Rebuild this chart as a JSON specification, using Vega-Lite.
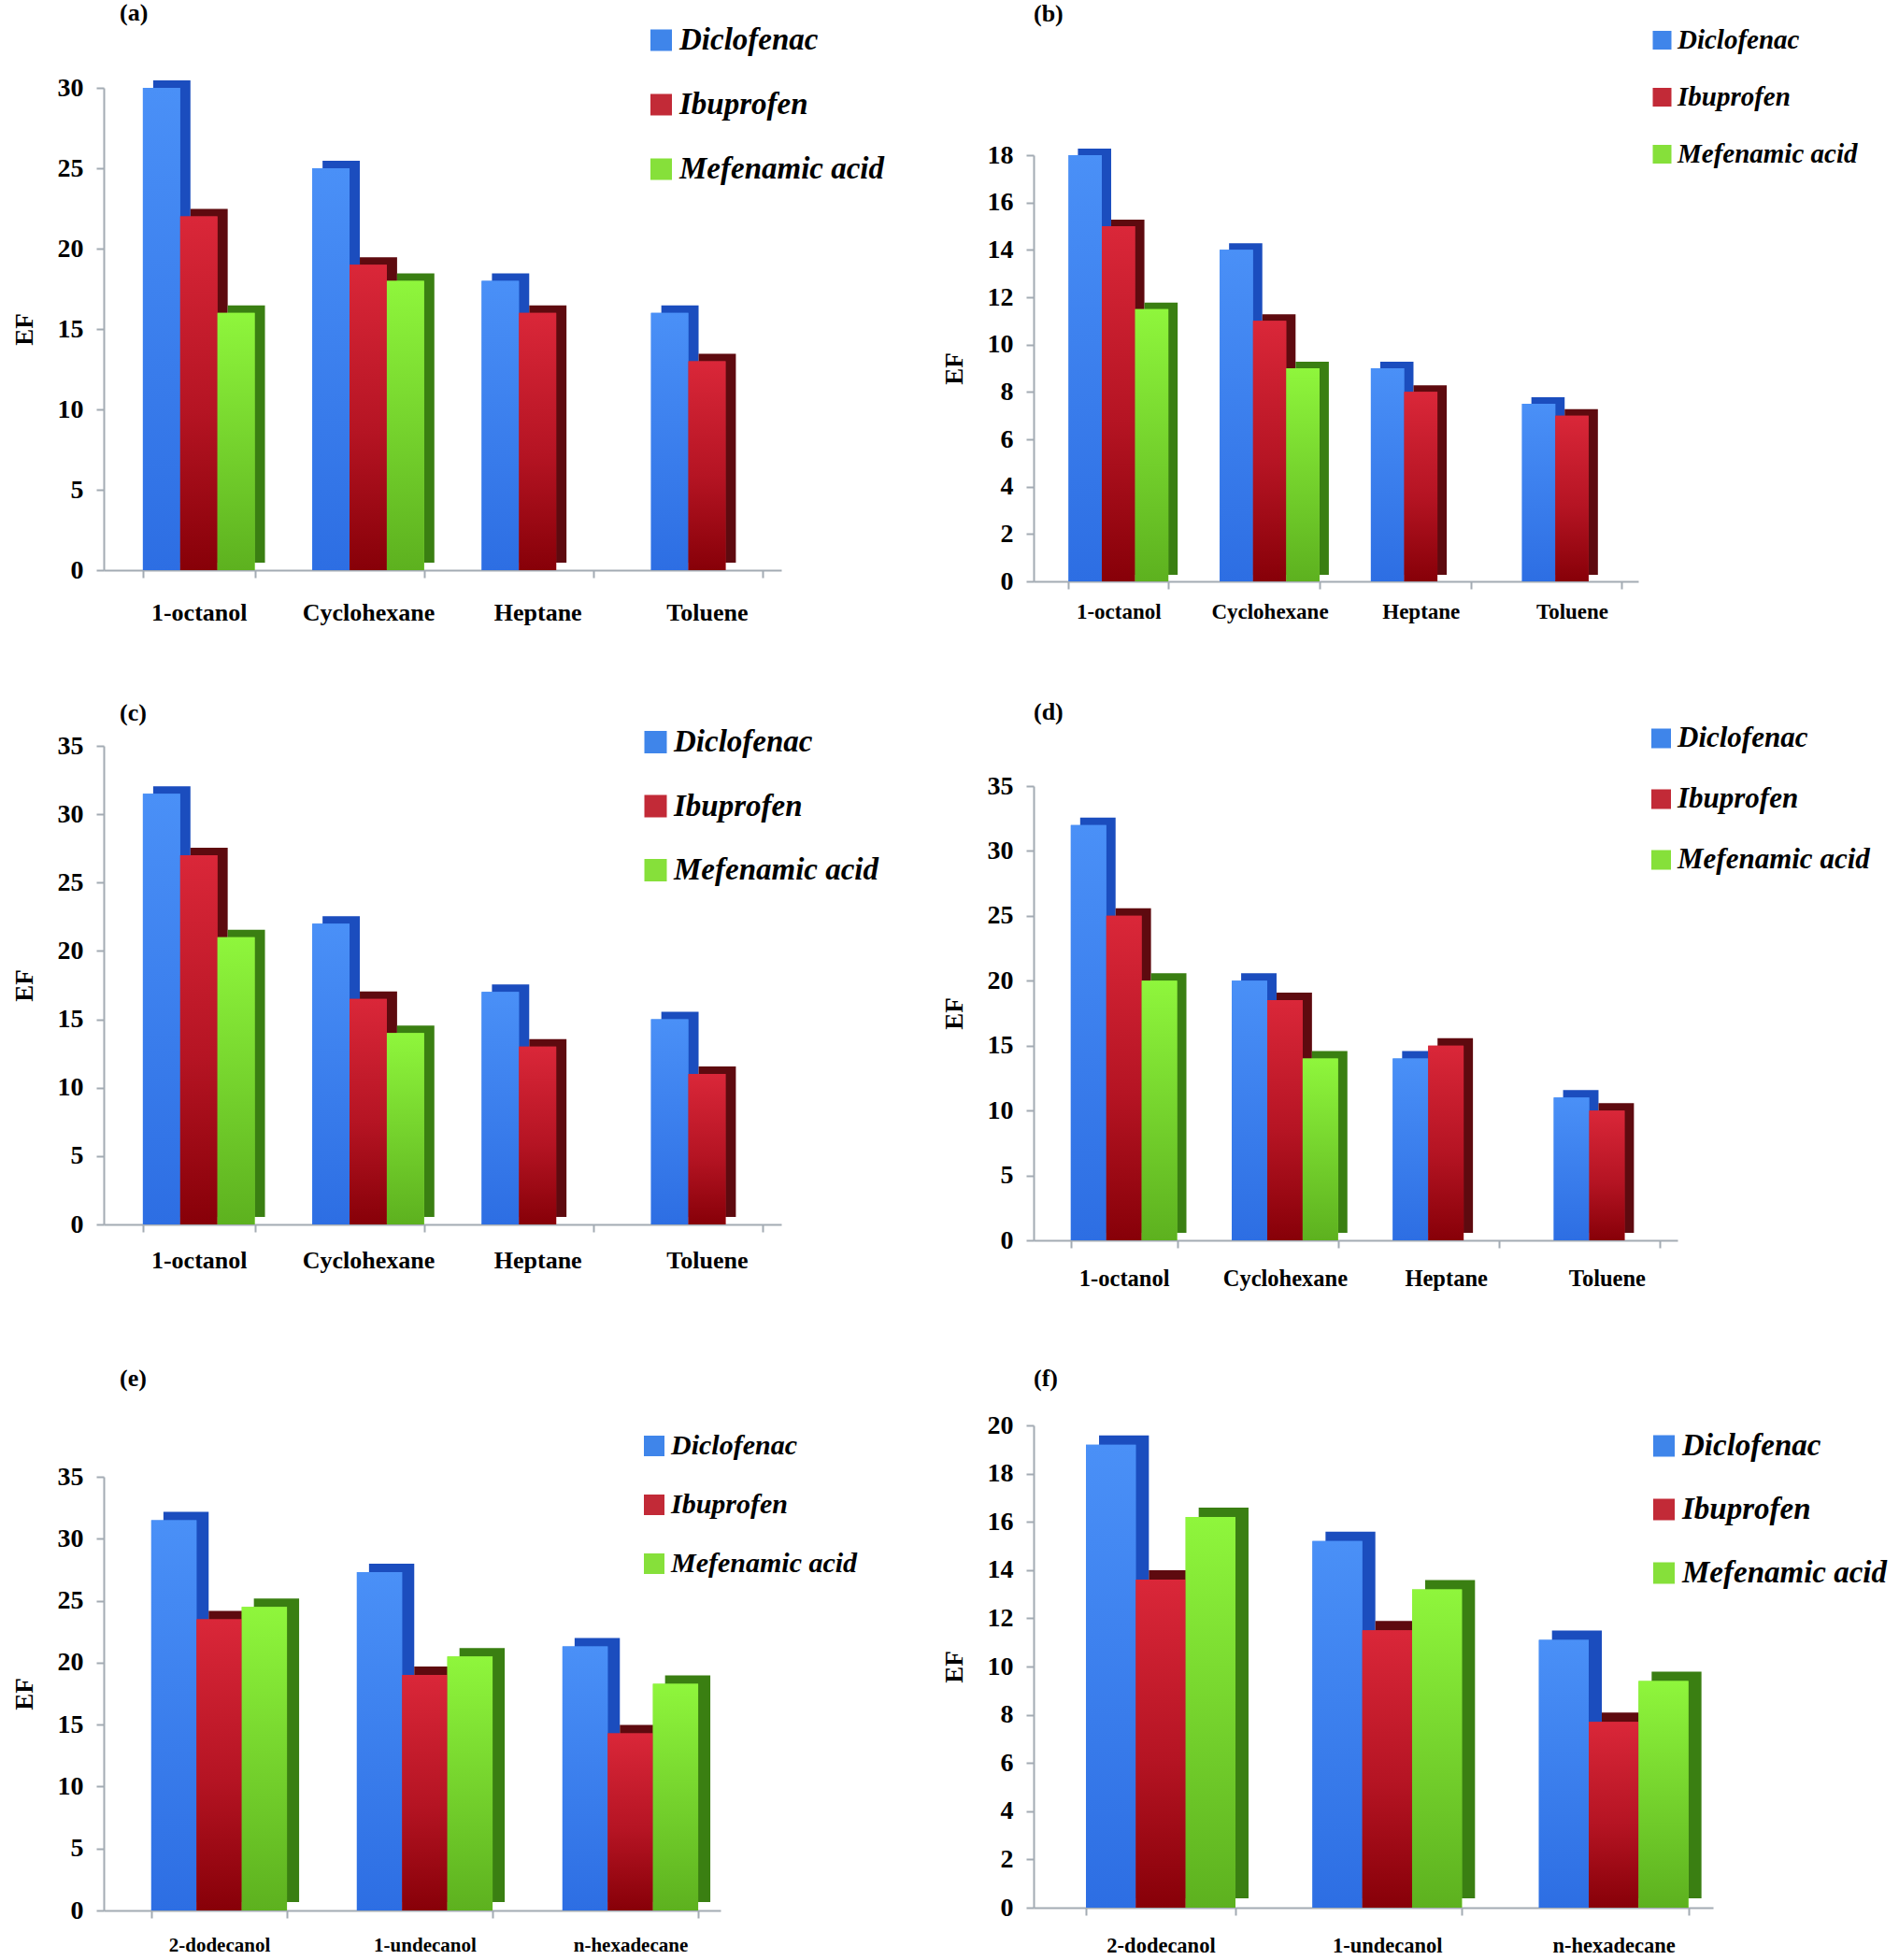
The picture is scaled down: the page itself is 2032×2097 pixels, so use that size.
{
"$schema": "https://vega.github.io/schema/vega-lite/v6.json",
"padding": {"left": 12, "top": 0, "right": 0, "bottom": 0},
"background": "white",
"datasets": {
"a": [
{"solvent": "1-octanol", "drug": "Diclofenac", "ef": 30},
{"solvent": "1-octanol", "drug": "Ibuprofen", "ef": 22},
{"solvent": "1-octanol", "drug": "Mefenamic acid", "ef": 16},
{"solvent": "Cyclohexane", "drug": "Diclofenac", "ef": 25},
{"solvent": "Cyclohexane", "drug": "Ibuprofen", "ef": 19},
{"solvent": "Cyclohexane", "drug": "Mefenamic acid", "ef": 18},
{"solvent": "Heptane", "drug": "Diclofenac", "ef": 18},
{"solvent": "Heptane", "drug": "Ibuprofen", "ef": 16},
{"solvent": "Heptane", "drug": "Mefenamic acid", "ef": 0},
{"solvent": "Toluene", "drug": "Diclofenac", "ef": 16},
{"solvent": "Toluene", "drug": "Ibuprofen", "ef": 13},
{"solvent": "Toluene", "drug": "Mefenamic acid", "ef": 0}
],
"b": [
{"solvent": "1-octanol", "drug": "Diclofenac", "ef": 18},
{"solvent": "1-octanol", "drug": "Ibuprofen", "ef": 15},
{"solvent": "1-octanol", "drug": "Mefenamic acid", "ef": 11.5},
{"solvent": "Cyclohexane", "drug": "Diclofenac", "ef": 14},
{"solvent": "Cyclohexane", "drug": "Ibuprofen", "ef": 11},
{"solvent": "Cyclohexane", "drug": "Mefenamic acid", "ef": 9},
{"solvent": "Heptane", "drug": "Diclofenac", "ef": 9},
{"solvent": "Heptane", "drug": "Ibuprofen", "ef": 8},
{"solvent": "Heptane", "drug": "Mefenamic acid", "ef": 0},
{"solvent": "Toluene", "drug": "Diclofenac", "ef": 7.5},
{"solvent": "Toluene", "drug": "Ibuprofen", "ef": 7},
{"solvent": "Toluene", "drug": "Mefenamic acid", "ef": 0}
],
"c": [
{"solvent": "1-octanol", "drug": "Diclofenac", "ef": 31.5},
{"solvent": "1-octanol", "drug": "Ibuprofen", "ef": 27},
{"solvent": "1-octanol", "drug": "Mefenamic acid", "ef": 21},
{"solvent": "Cyclohexane", "drug": "Diclofenac", "ef": 22},
{"solvent": "Cyclohexane", "drug": "Ibuprofen", "ef": 16.5},
{"solvent": "Cyclohexane", "drug": "Mefenamic acid", "ef": 14},
{"solvent": "Heptane", "drug": "Diclofenac", "ef": 17},
{"solvent": "Heptane", "drug": "Ibuprofen", "ef": 13},
{"solvent": "Heptane", "drug": "Mefenamic acid", "ef": 0},
{"solvent": "Toluene", "drug": "Diclofenac", "ef": 15},
{"solvent": "Toluene", "drug": "Ibuprofen", "ef": 11},
{"solvent": "Toluene", "drug": "Mefenamic acid", "ef": 0}
],
"d": [
{"solvent": "1-octanol", "drug": "Diclofenac", "ef": 32},
{"solvent": "1-octanol", "drug": "Ibuprofen", "ef": 25},
{"solvent": "1-octanol", "drug": "Mefenamic acid", "ef": 20},
{"solvent": "Cyclohexane", "drug": "Diclofenac", "ef": 20},
{"solvent": "Cyclohexane", "drug": "Ibuprofen", "ef": 18.5},
{"solvent": "Cyclohexane", "drug": "Mefenamic acid", "ef": 14},
{"solvent": "Heptane", "drug": "Diclofenac", "ef": 14},
{"solvent": "Heptane", "drug": "Ibuprofen", "ef": 15},
{"solvent": "Heptane", "drug": "Mefenamic acid", "ef": 0},
{"solvent": "Toluene", "drug": "Diclofenac", "ef": 11},
{"solvent": "Toluene", "drug": "Ibuprofen", "ef": 10},
{"solvent": "Toluene", "drug": "Mefenamic acid", "ef": 0}
],
"e": [
{"solvent": "2-dodecanol", "drug": "Diclofenac", "ef": 31.5},
{"solvent": "2-dodecanol", "drug": "Ibuprofen", "ef": 23.5},
{"solvent": "2-dodecanol", "drug": "Mefenamic acid", "ef": 24.5},
{"solvent": "1-undecanol", "drug": "Diclofenac", "ef": 27.3},
{"solvent": "1-undecanol", "drug": "Ibuprofen", "ef": 19},
{"solvent": "1-undecanol", "drug": "Mefenamic acid", "ef": 20.5},
{"solvent": "n-hexadecane", "drug": "Diclofenac", "ef": 21.3},
{"solvent": "n-hexadecane", "drug": "Ibuprofen", "ef": 14.3},
{"solvent": "n-hexadecane", "drug": "Mefenamic acid", "ef": 18.3}
],
"f": [
{"solvent": "2-dodecanol", "drug": "Diclofenac", "ef": 19.2},
{"solvent": "2-dodecanol", "drug": "Ibuprofen", "ef": 13.6},
{"solvent": "2-dodecanol", "drug": "Mefenamic acid", "ef": 16.2},
{"solvent": "1-undecanol", "drug": "Diclofenac", "ef": 15.2},
{"solvent": "1-undecanol", "drug": "Ibuprofen", "ef": 11.5},
{"solvent": "1-undecanol", "drug": "Mefenamic acid", "ef": 13.2},
{"solvent": "n-hexadecane", "drug": "Diclofenac", "ef": 11.1},
{"solvent": "n-hexadecane", "drug": "Ibuprofen", "ef": 7.7},
{"solvent": "n-hexadecane", "drug": "Mefenamic acid", "ef": 9.4}
]
},
"columns": 2,
"bounds": "flush",
"spacing": {"row": 154, "column": 270},
"concat": [
{
"width": 725, "height": 582,
"data": {"name": "a"},
"title": {"text": "(a)", "dx": 17, "offset": 0},
"encoding": {
"x": {"field": "solvent", "type": "nominal", "sort": null, "scale": {"paddingInner": 0.34, "paddingOuter": 0.17, "align": 0.68}, "axis": {"title": null, "labelFontSize": 26, "labelPadding": 24}},
"y": {"field": "ef", "type": "quantitative", "title": "EF", "scale": {"domain": [0, 30], "range": [582, 66], "nice": false}, "axis": {"values": [0, 5, 10, 15, 20, 25, 30]}}
},
"layer": [
{"mark": {"type": "bar", "yOffset": -8, "y2Offset": -8},
"encoding": {
"xOffset": {"field": "drug", "type": "nominal", "scale": {"domain": ["Diclofenac", "Ibuprofen", "Mefenamic acid"], "range": [11, 130.625], "paddingInner": 0, "paddingOuter": 0}},
"fill": {"field": "drug", "type": "nominal", "scale": {"range": ["#1B4DBE", "#5E0A0F", "#3A7F12"]}, "legend": null}}},
{"mark": "bar",
"encoding": {
"xOffset": {"field": "drug", "type": "nominal", "scale": {"domain": ["Diclofenac", "Ibuprofen", "Mefenamic acid"], "paddingInner": 0, "paddingOuter": 0}},
"color": {"field": "drug", "type": "nominal", "scale": {"domain": ["Diclofenac", "Ibuprofen", "Mefenamic acid"], "range": ["#3F85EA", "#C22A37", "#86E03A"]}, "legend": {"legendX": 580, "legendY": -1.5, "labelFontSize": 33, "rowPadding": 35, "symbolSize": 529, "labelOffset": 3}}}},
{"mark": "bar",
"encoding": {
"xOffset": {"field": "drug", "type": "nominal", "scale": {"domain": ["Diclofenac", "Ibuprofen", "Mefenamic acid"], "paddingInner": 0, "paddingOuter": 0}},
"color": {"condition": [
{"test": "datum.drug === 'Diclofenac'", "value": {"gradient": "linear", "x1": 0, "y1": 0, "x2": 0, "y2": 1, "stops": [{"offset": 0, "color": "#4A90F7"}, {"offset": 1, "color": "#2D6EE3"}]}},
{"test": "datum.drug === 'Ibuprofen'", "value": {"gradient": "linear", "x1": 0, "y1": 0, "x2": 0, "y2": 1, "stops": [{"offset": 0, "color": "#DA2739"}, {"offset": 0.55, "color": "#B51423"}, {"offset": 1, "color": "#870008"}]}}],
"value": {"gradient": "linear", "x1": 0, "y1": 0, "x2": 0, "y2": 1, "stops": [{"offset": 0, "color": "#8FF63C"}, {"offset": 1, "color": "#5DB11F"}]}}}}
],
"resolve": {"scale": {"xOffset": "independent"}}
},
{
"width": 647, "height": 594,
"data": {"name": "b"},
"title": {"text": "(b)", "dx": 0, "offset": 0},
"encoding": {
"x": {"field": "solvent", "type": "nominal", "sort": null, "scale": {"paddingInner": 0.34, "paddingOuter": 0.17, "align": 0.68}, "axis": {"title": null, "labelFontSize": 23, "labelPadding": 13.5}},
"y": {"field": "ef", "type": "quantitative", "title": "EF", "scale": {"domain": [0, 18], "range": [594, 138], "nice": false}, "axis": {"values": [0, 2, 4, 6, 8, 10, 12, 14, 16, 18]}}
},
"layer": [
{"mark": {"type": "bar", "yOffset": -7, "y2Offset": -7},
"encoding": {
"xOffset": {"field": "drug", "type": "nominal", "scale": {"domain": ["Diclofenac", "Ibuprofen", "Mefenamic acid"], "range": [10, 116.76], "paddingInner": 0, "paddingOuter": 0}},
"fill": {"field": "drug", "type": "nominal", "scale": {"range": ["#1B4DBE", "#5E0A0F", "#3A7F12"]}, "legend": null}}},
{"mark": "bar",
"encoding": {
"xOffset": {"field": "drug", "type": "nominal", "scale": {"domain": ["Diclofenac", "Ibuprofen", "Mefenamic acid"], "paddingInner": 0, "paddingOuter": 0}},
"color": {"field": "drug", "type": "nominal", "scale": {"domain": ["Diclofenac", "Ibuprofen", "Mefenamic acid"], "range": ["#3F85EA", "#C22A37", "#86E03A"]}, "legend": {"legendX": 658, "legendY": 0.5, "labelFontSize": 29, "rowPadding": 31, "symbolSize": 400, "labelOffset": 2}}}},
{"mark": "bar",
"encoding": {
"xOffset": {"field": "drug", "type": "nominal", "scale": {"domain": ["Diclofenac", "Ibuprofen", "Mefenamic acid"], "paddingInner": 0, "paddingOuter": 0}},
"color": {"condition": [
{"test": "datum.drug === 'Diclofenac'", "value": {"gradient": "linear", "x1": 0, "y1": 0, "x2": 0, "y2": 1, "stops": [{"offset": 0, "color": "#4A90F7"}, {"offset": 1, "color": "#2D6EE3"}]}},
{"test": "datum.drug === 'Ibuprofen'", "value": {"gradient": "linear", "x1": 0, "y1": 0, "x2": 0, "y2": 1, "stops": [{"offset": 0, "color": "#DA2739"}, {"offset": 0.55, "color": "#B51423"}, {"offset": 1, "color": "#870008"}]}}],
"value": {"gradient": "linear", "x1": 0, "y1": 0, "x2": 0, "y2": 1, "stops": [{"offset": 0, "color": "#8FF63C"}, {"offset": 1, "color": "#5DB11F"}]}}}}
],
"resolve": {"scale": {"xOffset": "independent"}}
},
{
"width": 725, "height": 534,
"data": {"name": "c"},
"title": {"text": "(c)", "dx": 17, "offset": 0},
"encoding": {
"x": {"field": "solvent", "type": "nominal", "sort": null, "scale": {"paddingInner": 0.34, "paddingOuter": 0.17, "align": 0.68}, "axis": {"title": null, "labelFontSize": 26, "labelPadding": 17}},
"y": {"field": "ef", "type": "quantitative", "title": "EF", "scale": {"domain": [0, 35], "range": [534, 22], "nice": false}, "axis": {"values": [0, 5, 10, 15, 20, 25, 30, 35]}}
},
"layer": [
{"mark": {"type": "bar", "yOffset": -8, "y2Offset": -8},
"encoding": {
"xOffset": {"field": "drug", "type": "nominal", "scale": {"domain": ["Diclofenac", "Ibuprofen", "Mefenamic acid"], "range": [11, 130.625], "paddingInner": 0, "paddingOuter": 0}},
"fill": {"field": "drug", "type": "nominal", "scale": {"range": ["#1B4DBE", "#5E0A0F", "#3A7F12"]}, "legend": null}}},
{"mark": "bar",
"encoding": {
"xOffset": {"field": "drug", "type": "nominal", "scale": {"domain": ["Diclofenac", "Ibuprofen", "Mefenamic acid"], "paddingInner": 0, "paddingOuter": 0}},
"color": {"field": "drug", "type": "nominal", "scale": {"domain": ["Diclofenac", "Ibuprofen", "Mefenamic acid"], "range": ["#3F85EA", "#C22A37", "#86E03A"]}, "legend": {"legendX": 574, "legendY": 1.5, "labelFontSize": 33, "rowPadding": 34.5, "symbolSize": 576, "labelOffset": 3}}}},
{"mark": "bar",
"encoding": {
"xOffset": {"field": "drug", "type": "nominal", "scale": {"domain": ["Diclofenac", "Ibuprofen", "Mefenamic acid"], "paddingInner": 0, "paddingOuter": 0}},
"color": {"condition": [
{"test": "datum.drug === 'Diclofenac'", "value": {"gradient": "linear", "x1": 0, "y1": 0, "x2": 0, "y2": 1, "stops": [{"offset": 0, "color": "#4A90F7"}, {"offset": 1, "color": "#2D6EE3"}]}},
{"test": "datum.drug === 'Ibuprofen'", "value": {"gradient": "linear", "x1": 0, "y1": 0, "x2": 0, "y2": 1, "stops": [{"offset": 0, "color": "#DA2739"}, {"offset": 0.55, "color": "#B51423"}, {"offset": 1, "color": "#870008"}]}}],
"value": {"gradient": "linear", "x1": 0, "y1": 0, "x2": 0, "y2": 1, "stops": [{"offset": 0, "color": "#8FF63C"}, {"offset": 1, "color": "#5DB11F"}]}}}}
],
"resolve": {"scale": {"xOffset": "independent"}}
},
{
"width": 689, "height": 551,
"data": {"name": "d"},
"title": {"text": "(d)", "dx": 0, "offset": 0},
"encoding": {
"x": {"field": "solvent", "type": "nominal", "sort": null, "scale": {"paddingInner": 0.34, "paddingOuter": 0.17, "align": 0.68}, "axis": {"title": null, "labelFontSize": 24.5, "labelPadding": 21}},
"y": {"field": "ef", "type": "quantitative", "title": "EF", "scale": {"domain": [0, 35], "range": [551, 65], "nice": false}, "axis": {"values": [0, 5, 10, 15, 20, 25, 30, 35]}}
},
"layer": [
{"mark": {"type": "bar", "yOffset": -8, "y2Offset": -8},
"encoding": {
"xOffset": {"field": "drug", "type": "nominal", "scale": {"domain": ["Diclofenac", "Ibuprofen", "Mefenamic acid"], "range": [10, 123.685], "paddingInner": 0, "paddingOuter": 0}},
"fill": {"field": "drug", "type": "nominal", "scale": {"range": ["#1B4DBE", "#5E0A0F", "#3A7F12"]}, "legend": null}}},
{"mark": "bar",
"encoding": {
"xOffset": {"field": "drug", "type": "nominal", "scale": {"domain": ["Diclofenac", "Ibuprofen", "Mefenamic acid"], "paddingInner": 0, "paddingOuter": 0}},
"color": {"field": "drug", "type": "nominal", "scale": {"domain": ["Diclofenac", "Ibuprofen", "Mefenamic acid"], "range": ["#3F85EA", "#C22A37", "#86E03A"]}, "legend": {"legendX": 656, "legendY": -1.5, "labelFontSize": 31, "rowPadding": 33, "symbolSize": 441, "labelOffset": 2}}}},
{"mark": "bar",
"encoding": {
"xOffset": {"field": "drug", "type": "nominal", "scale": {"domain": ["Diclofenac", "Ibuprofen", "Mefenamic acid"], "paddingInner": 0, "paddingOuter": 0}},
"color": {"condition": [
{"test": "datum.drug === 'Diclofenac'", "value": {"gradient": "linear", "x1": 0, "y1": 0, "x2": 0, "y2": 1, "stops": [{"offset": 0, "color": "#4A90F7"}, {"offset": 1, "color": "#2D6EE3"}]}},
{"test": "datum.drug === 'Ibuprofen'", "value": {"gradient": "linear", "x1": 0, "y1": 0, "x2": 0, "y2": 1, "stops": [{"offset": 0, "color": "#DA2739"}, {"offset": 0.55, "color": "#B51423"}, {"offset": 1, "color": "#870008"}]}}],
"value": {"gradient": "linear", "x1": 0, "y1": 0, "x2": 0, "y2": 1, "stops": [{"offset": 0, "color": "#8FF63C"}, {"offset": 1, "color": "#5DB11F"}]}}}}
],
"resolve": {"scale": {"xOffset": "independent"}}
},
{
"width": 660, "height": 563,
"data": {"name": "e"},
"title": {"text": "(e)", "dx": 17, "offset": -7},
"encoding": {
"x": {"field": "solvent", "type": "nominal", "sort": null, "scale": {"paddingInner": 0.34, "paddingOuter": 0.17, "align": 0.68}, "axis": {"title": null, "labelFontSize": 21, "labelPadding": 18}},
"y": {"field": "ef", "type": "quantitative", "title": "EF", "scale": {"domain": [0, 35], "range": [563, 99], "nice": false}, "axis": {"values": [0, 5, 10, 15, 20, 25, 30, 35]}}
},
"layer": [
{"mark": {"type": "bar", "yOffset": -9, "y2Offset": -9},
"encoding": {
"xOffset": {"field": "drug", "type": "nominal", "scale": {"domain": ["Diclofenac", "Ibuprofen", "Mefenamic acid"], "range": [13, 158.2], "paddingInner": 0, "paddingOuter": 0}},
"fill": {"field": "drug", "type": "nominal", "scale": {"range": ["#1B4DBE", "#5E0A0F", "#3A7F12"]}, "legend": null}}},
{"mark": "bar",
"encoding": {
"xOffset": {"field": "drug", "type": "nominal", "scale": {"domain": ["Diclofenac", "Ibuprofen", "Mefenamic acid"], "paddingInner": 0, "paddingOuter": 0}},
"color": {"field": "drug", "type": "nominal", "scale": {"domain": ["Diclofenac", "Ibuprofen", "Mefenamic acid"], "range": ["#3F85EA", "#C22A37", "#86E03A"]}, "legend": {"legendX": 574, "legendY": 51, "labelFontSize": 30, "rowPadding": 33, "symbolSize": 484, "labelOffset": 3}}}},
{"mark": "bar",
"encoding": {
"xOffset": {"field": "drug", "type": "nominal", "scale": {"domain": ["Diclofenac", "Ibuprofen", "Mefenamic acid"], "paddingInner": 0, "paddingOuter": 0}},
"color": {"condition": [
{"test": "datum.drug === 'Diclofenac'", "value": {"gradient": "linear", "x1": 0, "y1": 0, "x2": 0, "y2": 1, "stops": [{"offset": 0, "color": "#4A90F7"}, {"offset": 1, "color": "#2D6EE3"}]}},
{"test": "datum.drug === 'Ibuprofen'", "value": {"gradient": "linear", "x1": 0, "y1": 0, "x2": 0, "y2": 1, "stops": [{"offset": 0, "color": "#DA2739"}, {"offset": 0.55, "color": "#B51423"}, {"offset": 1, "color": "#870008"}]}}],
"value": {"gradient": "linear", "x1": 0, "y1": 0, "x2": 0, "y2": 1, "stops": [{"offset": 0, "color": "#8FF63C"}, {"offset": 1, "color": "#5DB11F"}]}}}}
],
"resolve": {"scale": {"xOffset": "independent"}}
},
{
"width": 727, "height": 560,
"data": {"name": "f"},
"title": {"text": "(f)", "dx": 0, "offset": -7},
"encoding": {
"x": {"field": "solvent", "type": "nominal", "sort": null, "scale": {"paddingInner": 0.34, "paddingOuter": 0.17, "align": 0.68}, "axis": {"title": null, "labelFontSize": 22.5, "labelPadding": 21}},
"y": {"field": "ef", "type": "quantitative", "title": "EF", "scale": {"domain": [0, 20], "range": [560, 44], "nice": false}, "axis": {"values": [0, 2, 4, 6, 8, 10, 12, 14, 16, 18, 20]}}
},
"layer": [
{"mark": {"type": "bar", "yOffset": -10, "y2Offset": -10},
"encoding": {
"xOffset": {"field": "drug", "type": "nominal", "scale": {"domain": ["Diclofenac", "Ibuprofen", "Mefenamic acid"], "range": [14, 173.94], "paddingInner": 0, "paddingOuter": 0}},
"fill": {"field": "drug", "type": "nominal", "scale": {"range": ["#1B4DBE", "#5E0A0F", "#3A7F12"]}, "legend": null}}},
{"mark": "bar",
"encoding": {
"xOffset": {"field": "drug", "type": "nominal", "scale": {"domain": ["Diclofenac", "Ibuprofen", "Mefenamic acid"], "paddingInner": 0, "paddingOuter": 0}},
"color": {"field": "drug", "type": "nominal", "scale": {"domain": ["Diclofenac", "Ibuprofen", "Mefenamic acid"], "range": ["#3F85EA", "#C22A37", "#86E03A"]}, "legend": {"legendX": 658, "legendY": 49.5, "labelFontSize": 33, "rowPadding": 34, "symbolSize": 529, "labelOffset": 3}}}},
{"mark": "bar",
"encoding": {
"xOffset": {"field": "drug", "type": "nominal", "scale": {"domain": ["Diclofenac", "Ibuprofen", "Mefenamic acid"], "paddingInner": 0, "paddingOuter": 0}},
"color": {"condition": [
{"test": "datum.drug === 'Diclofenac'", "value": {"gradient": "linear", "x1": 0, "y1": 0, "x2": 0, "y2": 1, "stops": [{"offset": 0, "color": "#4A90F7"}, {"offset": 1, "color": "#2D6EE3"}]}},
{"test": "datum.drug === 'Ibuprofen'", "value": {"gradient": "linear", "x1": 0, "y1": 0, "x2": 0, "y2": 1, "stops": [{"offset": 0, "color": "#DA2739"}, {"offset": 0.55, "color": "#B51423"}, {"offset": 1, "color": "#870008"}]}}],
"value": {"gradient": "linear", "x1": 0, "y1": 0, "x2": 0, "y2": 1, "stops": [{"offset": 0, "color": "#8FF63C"}, {"offset": 1, "color": "#5DB11F"}]}}}}
],
"resolve": {"scale": {"xOffset": "independent"}}
}
],
"resolve": {"scale": {"color": "independent", "fill": "independent"}},
"config": {
"view": {"stroke": null},
"font": "Liberation Serif",
"title": {"anchor": "start", "frame": "group", "fontSize": 26, "fontWeight": "bold", "color": "black", "font": "Liberation Serif"},
"axis": {"domainColor": "#A3ABB3", "domainWidth": 2, "tickColor": "#A3ABB3", "tickWidth": 2, "tickSize": 8, "labelColor": "black", "labelFont": "Liberation Serif", "labelFontWeight": "bold", "grid": false, "titleColor": "black", "titleFont": "Liberation Serif", "titleFontWeight": "bold"},
"axisX": {"labelAngle": 0, "tickBand": "extent"},
"axisY": {"labelFontSize": 28, "labelPadding": 14, "titleFontSize": 27, "titlePadding": 21},
"legend": {"orient": "none", "title": null, "padding": 0, "symbolType": "square", "labelFont": "Liberation Serif", "labelFontStyle": "italic", "labelFontWeight": "bold", "labelColor": "black", "symbolStrokeWidth": 0, "symbolOpacity": 1, "labelLimit": 400}
}
}
